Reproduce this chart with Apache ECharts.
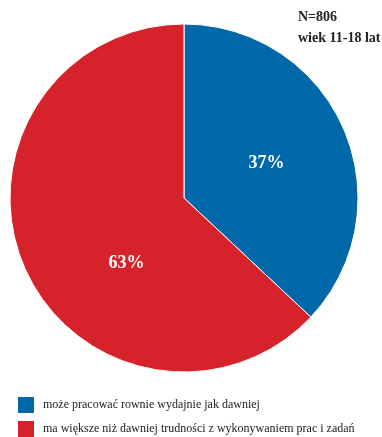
<!DOCTYPE html>
<html><head><meta charset="utf-8">
<script src="https://cdn.jsdelivr.net/npm/echarts@6/dist/echarts.min.js"></script>
<style>html,body{margin:0;padding:0;background:#fff}#c{width:382px;height:437px}</style>
</head><body><div id="c"></div>
<script>
const categories = ['może pracować rownie wydajnie jak dawniej', 'ma większe niż dawniej trudności z wykonywaniem prac i zadań'];
const values = [37, 63];
const colors = ['#0067a9', '#d6222b'];
const titleLines = ['N=806', 'wiek 11-18 lat'];
const labelOffsets = [[0, 1], [25, 30]];

const legendTops = [397, 421];
const chart = echarts.init(document.getElementById('c'), null, {renderer: 'canvas'});
chart.setOption({
  animation: false,
  title: {
    text: titleLines.join('\n'), left: 298, top: 7, padding: 0,
    textStyle: {fontFamily: 'Liberation Serif', fontWeight: 'bold', fontSize: 14, color: '#222', lineHeight: 21}
  },
  legend: categories.map((n, i) => ({
    orient: 'vertical', left: 18, top: legendTops[i], padding: 0, itemWidth: 16, itemHeight: 16,
    icon: 'rect', data: [n],
    itemStyle: {borderWidth: 0},
    textStyle: {fontFamily: 'Liberation Serif', fontSize: 12, color: '#222', padding: [0, 0, 0, 4]}
  })),
  series: [{
    type: 'pie', center: [184, 198], radius: [0, 174], startAngle: 90, clockwise: true,
    itemStyle: {borderColor: '#fff', borderWidth: 1},
    label: {show: true, position: 'inside', formatter: '{c}%', color: '#fff',
      fontFamily: 'Liberation Serif', fontWeight: 'bold', fontSize: 18},
    labelLine: {show: false},
    emphasis: {disabled: true},
    data: categories.map((n, i) => ({name: n, value: values[i], itemStyle: {color: colors[i]}, label: {offset: labelOffsets[i]}}))
  }]
});
</script></body></html>
